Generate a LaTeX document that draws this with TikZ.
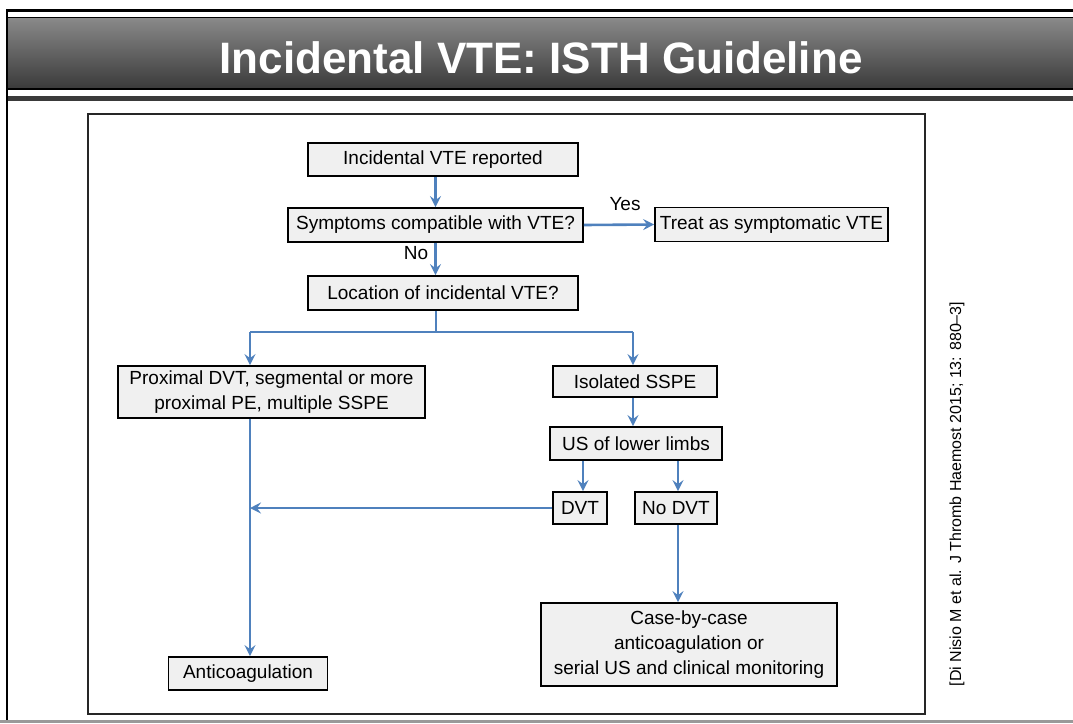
\documentclass[tikz,border=0pt]{standalone}
\usepackage{fontspec}
\setmainfont{Liberation Sans}
\usetikzlibrary{arrows.meta}
\definecolor{arrblue}{HTML}{4F81BD}
\definecolor{boxfill}{HTML}{F0F0F0}
\definecolor{bandtop}{HTML}{8A8A8A}
\definecolor{bandbot}{HTML}{3A3A3A}
\begin{document}
\begin{tikzpicture}[x=1pt,y=-1pt,
  fbox/.style={draw=black, line width=1.8pt, fill=boxfill, inner sep=0pt, align=center,
    font=\fontsize{19}{25}\selectfont},
  arr/.style={draw=arrblue, line width=2.6pt, -{Stealth[length=11pt,width=11pt,inset=4pt]}},
  lin/.style={draw=arrblue, line width=2.6pt},
  lbl/.style={font=\fontsize{19}{23}\selectfont, inner sep=0pt}]
\useasboundingbox (0,0) rectangle (1073,723);
\fill[white] (0,0) rectangle (1073,723);
% slide frame
\draw[black, line width=3pt] (6,10.5) -- (1073,10.5);
\draw[black, line width=2.5pt] (7,10) -- (7,720);
\shade[top color=bandtop, bottom color=bandbot] (8,17) rectangle (1073,89);
\draw[black, line width=1pt] (8,17) -- (1073,17);
\draw[black, line width=2pt] (8,89) -- (1073,89);
\fill[bandbot] (8,96) rectangle (1073,101);
\fill[gray!80] (0,720) rectangle (1073,723);
\node[text=white, font=\fontsize{44}{50}\bfseries\selectfont, inner sep=0pt] (title) at (541,58) {Incidental VTE: ISTH Guideline};
% image frame
\draw[black!85, line width=1.2pt] (88,114) rectangle (925,714);
% citation
\node[rotate=90, font=\fontsize{16}{19}\selectfont, inner sep=0pt] (cite) at (957,494) {[Di Nisio M et al. J Thromb Haemost 2015; 13: 880–3]};
% boxes
\node[fbox, minimum width=270pt, minimum height=33pt] (rep) at (443,159.5) {Incidental VTE reported};
\node[fbox, minimum width=295pt, minimum height=34pt] (sym) at (435.5,225) {Symptoms compatible with VTE?};
\node[fbox, minimum width=233pt, minimum height=34pt] (treat) at (771.5,224.5) {Treat as symptomatic VTE};
\node[fbox, minimum width=270pt, minimum height=34pt] (loc) at (443,293) {Location of incidental VTE?};
\node[fbox, minimum width=307pt, minimum height=52pt] (prox) at (271.5,392) {Proximal DVT, segmental or more\\proximal PE, multiple SSPE};
\node[fbox, minimum width=164pt, minimum height=31pt] (iso) at (635,381.5) {Isolated SSPE};
\node[fbox, minimum width=172pt, minimum height=33pt] (us) at (636,443.5) {US of lower limbs};
\node[fbox, minimum width=54pt, minimum height=32pt] (dvt) at (580,508) {DVT};
\node[fbox, minimum width=82pt, minimum height=32pt] (nodvt) at (676,508) {No DVT};
\node[fbox, minimum width=159pt, minimum height=33pt] (anti) at (248,673.5) {Anticoagulation};
\node[fbox, minimum width=296pt, minimum height=83pt] (case) at (689,644.5) {Case-by-case\\anticoagulation or\\serial US and clinical monitoring};
% connectors
\coordinate (split) at (436,332);
\coordinate (jl) at (250,332);
\coordinate (jr) at (633,332);
\coordinate (usl) at (583,0);
\coordinate (usr) at (678,0);
\draw[arr] (rep.south -| sym.north) -- (sym.north);
\draw[arr] (sym.east) -- (treat.west);
\node[lbl] (yes) at (625,204) {Yes};
\draw[arr] (sym.south) -- (loc.north -| sym.south);
\node[lbl] (no) at (416,253) {No};
\draw[lin] (loc.south -| split) -- (split);
\draw[lin] (jl) -- (jr);
\draw[arr] (jl) -- (jl |- prox.north);
\draw[arr] (jr) -- (jr |- iso.north);
\draw[arr] (iso.south -| jr) -- (us.north -| jr);
\draw[arr] (us.south -| usl) -- (dvt.north -| usl);
\draw[arr] (us.south -| usr) -- (nodvt.north -| usr);
\draw[arr] (dvt.west) -- (dvt.west -| jl);
\draw[arr] (prox.south -| jl) -- (anti.north -| jl);
\draw[arr] (nodvt.south -| usr) -- (case.north -| usr);
\end{tikzpicture}
\end{document}
